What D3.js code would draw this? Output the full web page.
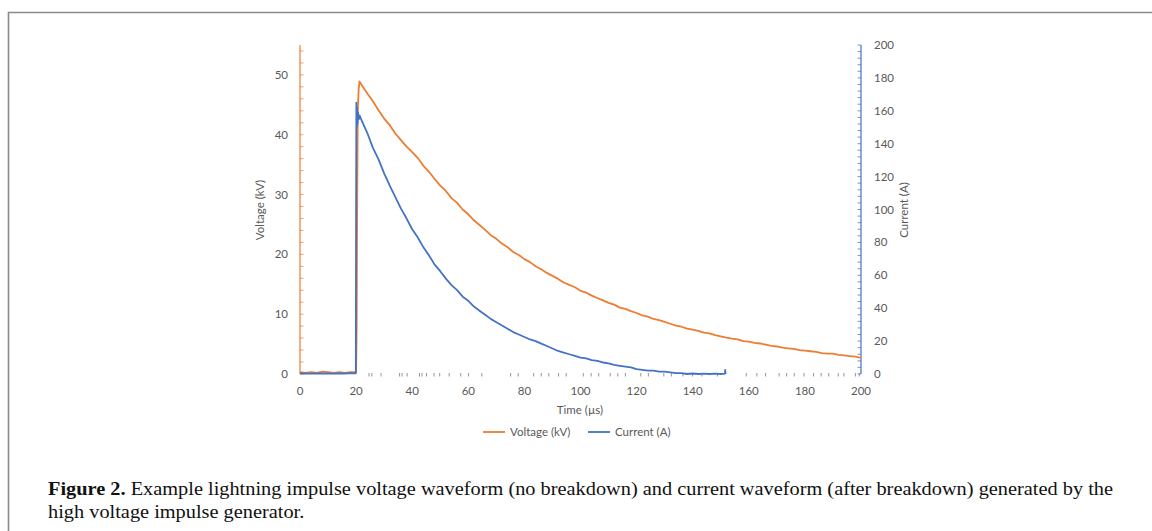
<!DOCTYPE html>
<html>
<head>
<meta charset="utf-8">
<script src="https://cdn.jsdelivr.net/npm/d3@7"></script>
<style>
  html, body { margin: 0; padding: 0; background: #fff; }
  svg { display: block; }
</style>
</head>
<body>
<svg id="chart" width="1152" height="531"></svg>
<script>
// Impulse voltage record (µs, kV)
const voltTime = [0,2,4,6,8,10,12,14,16,18,20,20.2,20.4,20.6,20.9,21.2,
  22,24,26,28,30,32,34,36,38,40,42,44,46,48,50,52,54,56,58,60,62,64,66,68,70,
  72,74,76,78,80,82,84,86,88,90,92,94,96,98,100,102,104,106,108,110,112,114,116,118,120,
  122,124,126,128,130,132,134,136,138,140,142,144,146,148,150,152,154,156,158,160,
  162,164,166,168,170,172,174,176,178,180,182,184,186,188,190,192,194,196,198,200];
const voltKV = [0.3,0.2,0.3,0.2,0.4,0.3,0.2,0.3,0.2,0.3,0.3,8,30,44,47.5,48.9,
  48.3,46.9,45.6,44.1,42.7,41.6,40.2,39.1,38.0,37.1,36.1,34.8,33.8,32.6,31.5,30.6,29.4,28.6,27.5,26.7,25.7,24.9,24.1,23.2,22.6,
  21.8,21.2,20.4,19.9,19.2,18.7,18.0,17.5,16.9,16.4,15.9,15.3,14.9,14.5,13.9,13.6,13.1,12.7,12.3,11.9,11.6,11.1,10.9,10.5,10.2,
  9.8,9.6,9.2,9.0,8.7,8.4,8.1,7.9,7.6,7.4,7.2,6.9,6.8,6.5,6.3,6.1,5.9,5.8,5.5,5.4,
  5.2,5.1,4.9,4.7,4.6,4.4,4.3,4.2,4.0,3.9,3.8,3.7,3.5,3.4,3.4,3.2,3.1,3.0,2.9,2.7];

// Breakdown current record (µs, A)
const currTime = [0,2,4,6,8,10,12,14,16,18,19.9,20.0,20.1,20.2,20.35,20.5,20.7,21.0,21.3,
  22,24,26,28,30,32,34,36,38,40,42,44,46,48,50,52,54,56,58,60,62,64,66,68,70,
  72,74,76,78,80,82,84,86,88,90,92,94,96,98,100,102,104,106,108,110,112,114,116,118,120,
  122,124,126,128,130,132,134,136,138,140,142,144,146,148,150,151.5,151.6,151.7];
const currA = [0.3,0.4,0.2,0.4,0.3,0.4,0.2,0.4,0.3,0.5,0.4,100,165,150,162,152,159,155,157,
  154,146.5,137.5,130.5,122,114.5,107.5,100.5,94.5,88,83,77,72,66.5,62.5,58,54,51,47,44.5,41,38.5,36,33.5,31.5,
  29.5,27.5,25.5,24,22.5,21,20,18.5,17,15.5,14,13,12,11,10,9.5,8.5,8,7,6.5,5.5,5,4.5,4,3,
  2.5,2,2,1.5,1.5,1,0.5,0.5,0,0.3,0,0.2,0,0.2,0,0.2,2.5,0];

// Sparse residual samples sitting on the zero line (µs)
const baseTicks = [24.6,25.6,28.9,35.5,36.4,38.2,42.6,43.5,45.1,47.8,49.8,53.2,57.3,60.1,64.8,
  75.1,77.8,83.3,86.0,88.7,92.2,94.9,101.0,103.8,106.5,110.6,113.3,116.0,121.5,124.2,
  129.7,132.4,136.5,139.9,143.3,148.8,159.1,162.9,166.0,170.8,173.5,176.2,179.7,183.1,
  185.8,188.5,191.9,193.9,198.0,199.4];

const timeTicks = [0,20,40,60,80,100,120,140,160,180,200];
const voltTicks = [0,10,20,30,40,50];
const currTicks = [0,20,40,60,80,100,120,140,160,180,200];

const captionBold = "Figure 2.";
const captionLine1 = " Example lightning impulse voltage waveform (no breakdown) and current waveform (after breakdown) generated by the";
const captionLine2 = "high voltage impulse generator.";

const ORANGE = "#ED7D31", BLUE = "#4472C4", LABEL = "#595959";
const tickFont = "Lato, 'Open Sans', sans-serif";
const tickSize = "11.5px";

const svg = d3.select("#chart");

// page frame
svg.append("path")
  .attr("d", "M8.5,531 V12.5 H1152")
  .attr("fill", "none").attr("stroke", "#8a8a8a").attr("stroke-width", 1.6);

const x = d3.scaleLinear().domain([0, 200]).range([300, 861]);
const yV = d3.scaleLinear().domain([0, 55]).range([374, 45]);
const yI = d3.scaleLinear().domain([0, 200]).range([374, 45]);

// left voltage axis (orange)
const gL = svg.append("g");
gL.append("line").attr("x1", 300).attr("x2", 300).attr("y1", yV(55)).attr("y2", yV(0))
  .attr("stroke", ORANGE).attr("stroke-width", 1.2);
gL.selectAll("line.minor").data(d3.range(0, 55.01, 2)).join("line")
  .attr("class", "minor")
  .attr("x1", 300).attr("x2", 303.5)
  .attr("y1", d => yV(d)).attr("y2", d => yV(d))
  .attr("stroke", ORANGE).attr("stroke-width", 0.9).attr("opacity", 0.8);
gL.selectAll("text").data(voltTicks).join("text")
  .attr("x", 288).attr("y", d => yV(d)).attr("dy", "0.35em")
  .attr("text-anchor", "end").attr("fill", LABEL)
  .style("font", `${tickSize} ${tickFont}`).text(d => d);

// right current axis (blue)
const gR = svg.append("g");
gR.append("line").attr("x1", 861).attr("x2", 861).attr("y1", yI(200)).attr("y2", yI(0))
  .attr("stroke", BLUE).attr("stroke-width", 1.2);
gR.selectAll("line.minor").data(d3.range(0, 200.01, 4)).join("line")
  .attr("class", "minor")
  .attr("x1", 857.5).attr("x2", 861)
  .attr("y1", d => yI(d)).attr("y2", d => yI(d))
  .attr("stroke", BLUE).attr("stroke-width", 0.9).attr("opacity", 0.8);
gR.selectAll("text").data(currTicks).join("text")
  .attr("x", 874).attr("y", d => yI(d)).attr("dy", "0.35em")
  .attr("text-anchor", "start").attr("fill", LABEL)
  .style("font", `${tickSize} ${tickFont}`).text(d => d);

// time labels
svg.append("g").selectAll("text").data(timeTicks).join("text")
  .attr("x", d => x(d)).attr("y", 391).attr("dy", "0.35em")
  .attr("text-anchor", "middle").attr("fill", LABEL)
  .style("font", `${tickSize} ${tickFont}`).text(d => d);

// residual samples along zero
svg.append("g").selectAll("line").data(baseTicks).join("line")
  .attr("x1", d => x(d)).attr("x2", d => x(d))
  .attr("y1", 373).attr("y2", 376.5)
  .attr("stroke", "#8a8a8a").attr("stroke-width", 0.9);

// axis titles
svg.append("text").attr("transform", "translate(264,210) rotate(-90)")
  .attr("text-anchor", "middle").attr("fill", LABEL)
  .style("font", `${tickSize} ${tickFont}`).text("Voltage (kV)");
svg.append("text").attr("transform", "translate(908,210) rotate(-90)")
  .attr("text-anchor", "middle").attr("fill", LABEL)
  .style("font", `${tickSize} ${tickFont}`).text("Current (A)");
svg.append("text").attr("x", 580).attr("y", 410).attr("dy", "0.35em")
  .attr("text-anchor", "middle").attr("fill", LABEL)
  .style("font", `${tickSize} ${tickFont}`).text("Time (µs)");

// waveforms
const voltData = voltTime.map((t, i) => [t, voltKV[i]]);
const currData = currTime.map((t, i) => [t, currA[i]]);

svg.append("path").datum(voltData)
  .attr("fill", "none").attr("stroke", ORANGE).attr("stroke-width", 1.8)
  .attr("stroke-linejoin", "round")
  .attr("d", d3.line().x(d => x(d[0])).y(d => yV(d[1])));

svg.append("path").datum(currData)
  .attr("fill", "none").attr("stroke", BLUE).attr("stroke-width", 1.8)
  .attr("stroke-linejoin", "round")
  .attr("d", d3.line().x(d => x(d[0])).y(d => yI(d[1])));

// legend
const legend = [
  {label: "Voltage (kV)", color: ORANGE, x: 483},
  {label: "Current (A)", color: BLUE, x: 588}
];
const lg = svg.append("g").selectAll("g").data(legend).join("g");
lg.append("line").attr("x1", d => d.x).attr("x2", d => d.x + 22)
  .attr("y1", 432).attr("y2", 432)
  .attr("stroke", d => d.color).attr("stroke-width", 1.8);
lg.append("text").attr("x", d => d.x + 27).attr("y", 432).attr("dy", "0.35em")
  .attr("fill", LABEL).style("font", `${tickSize} ${tickFont}`).text(d => d.label);

// caption
const capFont = "'Liberation Serif', 'DejaVu Serif', serif";
const cap1 = svg.append("text").attr("x", 48).attr("y", 495)
  .attr("fill", "#111").style("font", `19px ${capFont}`);
cap1.append("tspan").attr("font-weight", "bold").text(captionBold);
cap1.append("tspan").text(captionLine1);
const cap2 = svg.append("text").attr("x", 48).attr("y", 518)
  .attr("fill", "#111").style("font", `19px ${capFont}`).text(captionLine2);

// condense caption lines to the typeset measure
const natural1 = cap1.node().getComputedTextLength();
const factor = 1065 / natural1;
cap1.attr("textLength", 1065).attr("lengthAdjust", "spacingAndGlyphs");
cap2.attr("textLength", cap2.node().getComputedTextLength() * factor)
  .attr("lengthAdjust", "spacingAndGlyphs");
</script>
</body>
</html>
